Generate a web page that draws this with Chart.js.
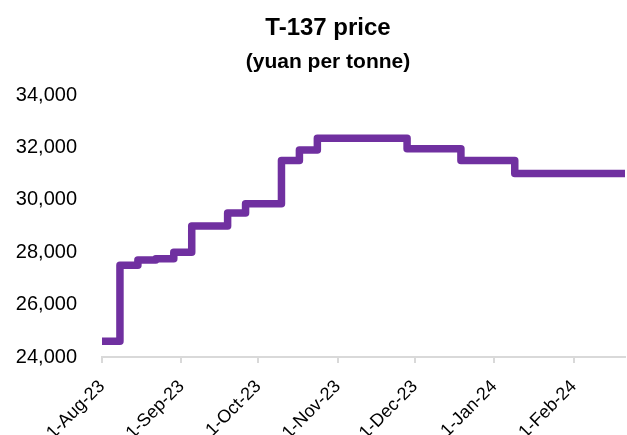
<!DOCTYPE html>
<html>
<head>
<meta charset="utf-8">
<script src="https://cdn.jsdelivr.net/npm/chart.js@4/dist/chart.umd.min.js"></script>
<style>
  html, body { margin: 0; padding: 0; background: #fff; }
  #wrap { position: relative; width: 627px; height: 435px; }
  .ttl {
    position: absolute; left: 228px; width: 200px; text-align: center;
    font-family: 'Liberation Sans', Arial, sans-serif; font-weight: bold; color: #000;
    white-space: nowrap; line-height: 1;
  }
  #t1 { top: 15px; font-size: 24px; }
  #t2 { top: 50px; font-size: 21px; }
</style>
</head>
<body>
<div id="wrap">
  <div class="ttl" id="t1">T-137 price</div>
  <div class="ttl" id="t2">(yuan per tonne)</div>
  <canvas id="c-price"></canvas>
</div>
<script>
// ── DATA ───────────────────────────────────────────────────────────────────
// Dates where the price changes (the last one is the end of the series)
const stepDates  = ['2023-08-01', '2023-08-08', '2023-08-15', '2023-08-22', '2023-08-29',
                    '2023-09-05', '2023-09-19', '2023-09-26', '2023-10-10', '2023-10-17',
                    '2023-10-24', '2023-11-28', '2023-12-19', '2024-01-09', '2024-02-21'];
const stepPrices = [24600, 27500, 27700, 27750, 28000,
                    29000, 29500, 29850, 31500, 31900,
                    32350, 31950, 31500, 31000, 31000];

const tickDates  = ['2023-08-01', '2023-09-01', '2023-10-01', '2023-11-01',
                    '2023-12-01', '2024-01-01', '2024-02-01'];
const tickLabels = ['1-Aug-23', '1-Sep-23', '1-Oct-23', '1-Nov-23',
                    '1-Dec-23', '1-Jan-24', '1-Feb-24'];
const yTicks     = [24000, 26000, 28000, 30000, 32000, 34000];

// ── HELPERS ────────────────────────────────────────────────────────────────
const FONT = "'Liberation Sans', Arial, sans-serif";
const day0 = Date.parse(stepDates[0]);
const day  = d => (Date.parse(d) - day0) / 86400000;

const pts = stepDates.map((d, i) => ({ x: day(d), y: stepPrices[i] }));

// ── CHART ──────────────────────────────────────────────────────────────────
new Chart(document.getElementById('c-price'), {
  type: 'line',
  data: {
    datasets: [{
      label: 'T-137',
      data: pts,
      stepped: 'before',
      borderColor: '#7030A0',
      borderWidth: 7.5,
      borderJoinStyle: 'round',
      pointRadius: 0,
      fill: false,
    }],
  },
  options: {
    responsive:          true,
    maintainAspectRatio: false,
    animation:           false,
    layout: { padding: { left: 0, right: 2, top: 95, bottom: 0 } },
    plugins: {
      legend:  { display: false },
      tooltip: { enabled: false },
    },
    scales: {
      x: {
        type: 'linear',
        min: 0,
        max: day(stepDates[stepDates.length - 1]),
        afterBuildTicks: s => { s.ticks = tickDates.map(d => ({ value: day(d) })); },
        afterFit: s => { s.height = 78; },
        ticks: {
          callback: (v, i) => tickLabels[i],
          autoSkip: false,
          minRotation: 45,
          maxRotation: 45,
          color: '#000',
          font: { family: FONT, size: 18 },
          padding: 13,
        },
        grid:   { drawOnChartArea: false, color: '#d9d9d9', lineWidth: 2, tickLength: 6 },
        border: { color: '#d9d9d9', width: 2 },
      },
      y: {
        min: 24000,
        max: 34000,
        afterBuildTicks: s => { s.ticks = yTicks.map(v => ({ value: v })); },
        afterFit: s => { s.width = 102; },
        ticks: {
          callback: v => v.toLocaleString('en-US'),
          color: '#000',
          font: { family: FONT, size: 20 },
          padding: 25,
        },
        grid:   { display: false, drawTicks: false },
        border: { display: false },
      },
    },
  },
});
</script>
</body>
</html>
